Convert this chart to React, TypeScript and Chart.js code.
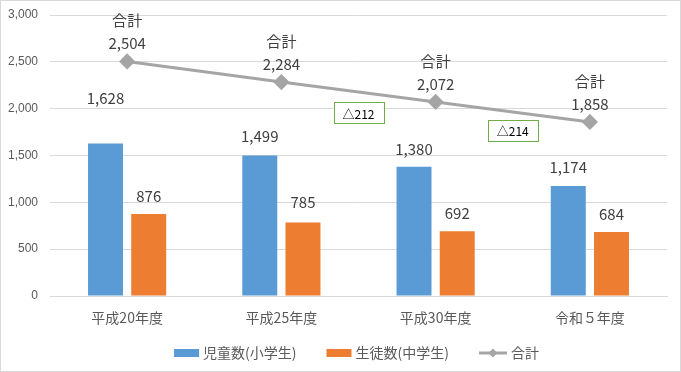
import React, { useEffect, useRef } from "react";
import { Chart, registerables } from "chart.js";
Chart.register(...registerables);

const categories = ["平成20年度", "平成25年度", "平成30年度", "令和５年度"];
const elementary = [1628, 1499, 1380, 1174];
const juniorHigh = [876, 785, 692, 684];
const totals = [2504, 2284, 2072, 1858];
const diffLabels = ["△212", "△214"];
const yTicks = [0, 500, 1000, 1500, 2000, 2500, 3000];
const seriesNames = ["児童数(小学生)", "生徒数(中学生)", "合計"];

const FONT = "'Noto Sans CJK JP', 'Noto Sans', sans-serif";
const BLUE = "#5b9bd5";
const ORANGE = "#ed7d31";
const GRAY = "#a5a5a5";

const fmt = (v: number) => v.toLocaleString("en-US");

const diamond = (ctx: any, x: number, y: number, r: number) => {
  ctx.beginPath();
  ctx.moveTo(x, y - r);
  ctx.lineTo(x + r, y);
  ctx.lineTo(x, y + r);
  ctx.lineTo(x - r, y);
  ctx.closePath();
  ctx.fill();
};

const labelPlugin = {
  id: "labels",
  afterDatasetsDraw(chart: any) {
    const ctx = chart.ctx;
    ctx.save();
    ctx.fillStyle = "#404040";
    ctx.textAlign = "center";
    ctx.textBaseline = "middle";
    ctx.font = `15px ${FONT}`;
    const barOffsets = [[45, 18], [19, 20], [17, 18], [19, 18]];
    [0, 1].forEach((di) => {
      const meta = chart.getDatasetMeta(di);
      const data = chart.data.datasets[di].data as number[];
      meta.data.forEach((el: any, i: number) => {
        ctx.fillText(fmt(data[i]), el.x, el.y - barOffsets[i][di]);
      });
    });
    const lm = chart.getDatasetMeta(2);
    lm.data.forEach((el: any, i: number) => {
      ctx.fillText(fmt(totals[i]), el.x, el.y - 18);
      ctx.fillText("合計", el.x, el.y - 41);
    });
    const xs = chart.scales.x;
    const ys = chart.scales.y;
    const boxes = [
      { xi: 1.5, yv: 1954 },
      { xi: 2.5, yv: 1772 },
    ];
    ctx.font = `12px ${FONT}`;
    boxes.forEach((b, k) => {
      const x = xs.getPixelForValue(b.xi);
      const y = ys.getPixelForValue(b.yv);
      const w = 50, h = 21;
      ctx.fillStyle = "#ffffff";
      ctx.fillRect(x - w / 2, y - h / 2, w, h);
      ctx.strokeStyle = "#70ad47";
      ctx.lineWidth = 1;
      ctx.strokeRect(Math.round(x - w / 2) + 0.5, Math.round(y - h / 2) + 0.5, w, h);
      ctx.fillStyle = "#000000";
      ctx.fillText(diffLabels[k], x, y + 1);
    });

    // legend
    ctx.font = `14px ${FONT}`;
    ctx.textAlign = "left";
    const boxW = 25, gapText = 4, gapItem = 30;
    const widths = seriesNames.map((n, i) => boxW + gapText + (i === 2 ? 3 : 0) + ctx.measureText(n).width);
    const total = widths.reduce((a, b) => a + b, 0) + gapItem * (seriesNames.length - 1);
    let x = chart.width / 2 - total / 2 + 16;
    const ly = 353;
    seriesNames.forEach((n, i) => {
      if (i < 2) {
        ctx.fillStyle = i === 0 ? BLUE : ORANGE;
        ctx.fillRect(x, ly - 4, boxW, 8);
      } else {
        ctx.strokeStyle = GRAY;
        ctx.lineWidth = 3;
        ctx.beginPath();
        ctx.moveTo(x, ly);
        ctx.lineTo(x + boxW + 3, ly);
        ctx.stroke();
        ctx.fillStyle = GRAY;
        diamond(ctx, x + (boxW + 3) / 2, ly, 4.5);
      }
      ctx.fillStyle = "#595959";
      ctx.fillText(n, x + boxW + gapText + (i === 2 ? 3 : 0), ly);
      x += widths[i] + gapItem;
    });
    ctx.restore();
  },
};

const borderPlugin = {
  id: "outerBorder",
  beforeDraw(chart: any) {
    const ctx = chart.ctx;
    ctx.save();
    ctx.fillStyle = "#ffffff";
    ctx.fillRect(0, 0, chart.width, chart.height);
    ctx.strokeStyle = "#d9d9d9";
    ctx.lineWidth = 1;
    ctx.strokeRect(0.5, 0.5, chart.width - 1, chart.height - 1);
    ctx.restore();
  },
};

export default function App() {
  const ref = useRef<HTMLCanvasElement>(null);
  useEffect(() => {
    if (!ref.current) return;
    const chart = new Chart(ref.current, {
      type: "bar",
      data: {
        labels: categories,
        datasets: [
          {
            label: seriesNames[0],
            data: elementary,
            backgroundColor: BLUE,
            categoryPercentage: 0.56,
            barPercentage: 0.81,
            order: 2,
          },
          {
            label: seriesNames[1],
            data: juniorHigh,
            backgroundColor: ORANGE,
            categoryPercentage: 0.56,
            barPercentage: 0.81,
            order: 2,
          },
          {
            type: "line",
            label: seriesNames[2],
            data: totals,
            borderColor: GRAY,
            backgroundColor: GRAY,
            borderWidth: 3,
            pointStyle: "rectRot",
            pointRadius: 6,
            pointHoverRadius: 6,
            pointBackgroundColor: GRAY,
            pointBorderColor: GRAY,
            order: 1,
          } as any,
        ],
      },
      options: {
        animation: false,
        responsive: false,
        maintainAspectRatio: false,
        layout: { padding: { left: 6, right: 14, top: 15, bottom: 36 } },
        plugins: {
          tooltip: { enabled: false },
          legend: { display: false },
        },
        scales: {
          x: {
            grid: { display: false, drawTicks: false },
            border: { color: "#d9d9d9" },
            ticks: { font: { family: FONT, size: 14 }, color: "#595959", padding: 13 },
            afterFit: (axis: any) => {
              axis.height = 40;
              axis.paddingLeft = 0;
              axis.paddingRight = 0;
            },
          },
          y: {
            min: 0,
            max: 3000,
            afterBuildTicks: (axis: any) => {
              axis.ticks = yTicks.map((v) => ({ value: v }));
            },
            afterFit: (axis: any) => {
              axis.width = 44;
              axis.paddingTop = 0;
              axis.paddingBottom = 0;
            },
            grid: { color: "#d9d9d9", drawTicks: false },
            border: { display: false },
            ticks: {
              font: { family: "'Liberation Sans', sans-serif", size: 12 },
              color: "#595959",
              padding: 12,
              callback: (v: any) => fmt(Number(v)),
            },
          },
        },
      },
      plugins: [borderPlugin, labelPlugin],
    });
    return () => chart.destroy();
  }, []);
  return (
    <div style={{ position: "absolute", left: 0, top: 0, width: 681, height: 372 }}>
      <canvas ref={ref} width={681} height={372} style={{ display: "block" }} />
    </div>
  );
}
